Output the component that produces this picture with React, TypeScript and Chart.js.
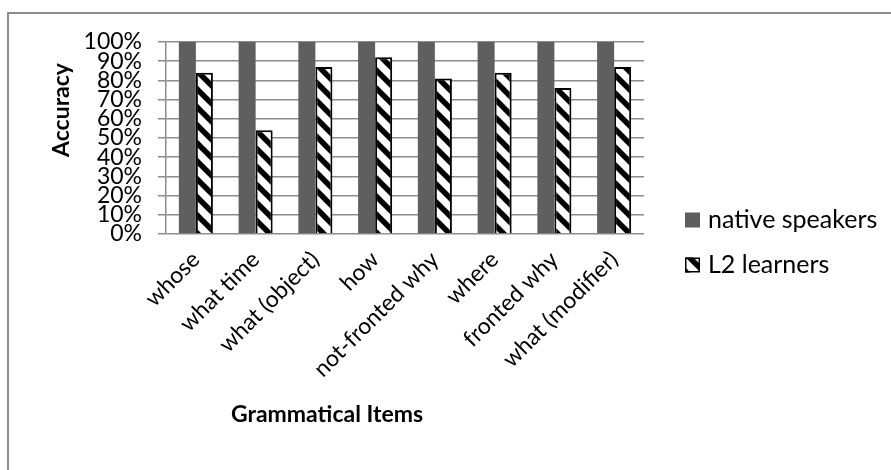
import React, { useEffect, useRef } from "react";
import { Chart, registerables } from "chart.js";

Chart.register(...registerables);

const categories = [
  "whose",
  "what time",
  "what (object)",
  "how",
  "not-fronted why",
  "where",
  "fronted why",
  "what (modifier)",
];
const nativeSpeakers = [100, 100, 100, 100, 100, 100, 100, 100];
const l2Learners = [84, 54, 87, 92, 81, 84, 76, 87];
const seriesNames = ["native speakers", "L2 learners"];
const xTitle = "Grammatical Items";
const yTitle = "Accuracy";
const yMin = 0;
const yMax = 100;
const yStep = 10;

const FONT = "Lato, 'Open Sans', sans-serif";
const GRID = "#8c8c8c";
const FS = 23;
const LEGEND_FS = 25;

function makeHatch(): CanvasPattern | string {
  const size = 18;
  const c = document.createElement("canvas");
  c.width = size;
  c.height = size;
  const g = c.getContext("2d");
  if (!g) return "#fff";
  g.fillStyle = "#fff";
  g.fillRect(0, 0, size, size);
  g.strokeStyle = "#000";
  g.lineWidth = 5.5;
  g.beginPath();
  for (let k = -1; k <= 1; k++) {
    g.moveTo(k * size - 2, -2);
    g.lineTo(k * size + size + 2, size + 2);
  }
  g.stroke();
  const p = g.createPattern(c, "repeat");
  return p || "#fff";
}

const framePlugin = {
  id: "frame",
  beforeDraw(chart: any) {
    const { ctx, width, height } = chart;
    ctx.save();
    ctx.fillStyle = "#fff";
    ctx.fillRect(0, 0, width, height);
    ctx.strokeStyle = GRID;
    ctx.lineWidth = 2;
    ctx.beginPath();
    ctx.moveTo(8, height + 5);
    ctx.lineTo(8, 13);
    ctx.lineTo(width + 5, 13);
    ctx.stroke();
    ctx.restore();
  },
};

const titlesPlugin = {
  id: "titles",
  afterDraw(chart: any) {
    const { ctx } = chart;
    ctx.save();
    ctx.fillStyle = "#000";
    ctx.font = `bold ${FS}px ${FONT}`;
    ctx.textAlign = "center";
    ctx.textBaseline = "middle";
    ctx.fillText(xTitle, 327, 415);
    ctx.translate(62, 110);
    ctx.rotate(-Math.PI / 2);
    ctx.fillText(yTitle, 0, 0);
    ctx.restore();
  },
};

const legendPlugin = {
  id: "sideLegend",
  afterDraw(chart: any) {
    const { ctx, chartArea } = chart;
    const x = chartArea.right + 41;
    ctx.save();
    chart.data.datasets.forEach((ds: any, i: number) => {
      const cy = 220 + i * 45;
      ctx.fillStyle = ds.backgroundColor;
      ctx.fillRect(x, cy - 7.5, 15, 15);
      if (ds.borderWidth) {
        ctx.strokeStyle = ds.borderColor;
        ctx.lineWidth = 1.5;
        ctx.strokeRect(x + 0.75, cy - 6.75, 13.5, 13.5);
      }
      ctx.fillStyle = "#000";
      ctx.font = `${LEGEND_FS}px ${FONT}`;
      ctx.textAlign = "left";
      ctx.textBaseline = "middle";
      ctx.fillText(ds.label, x + 23, cy);
    });
    ctx.restore();
  },
};

export default function App() {
  const ref = useRef<HTMLCanvasElement | null>(null);

  useEffect(() => {
    if (!ref.current) return;
    const hatch = makeHatch();
    const padLeft = 36;
    const chart = new Chart(ref.current, {
      type: "bar",
      data: {
        labels: categories,
        datasets: [
          {
            label: seriesNames[0],
            data: nativeSpeakers,
            backgroundColor: "#5f5f5f",
            borderWidth: 0,
            categoryPercentage: 0.57,
            barPercentage: 1,
          },
          {
            label: seriesNames[1],
            data: l2Learners,
            backgroundColor: hatch as any,
            borderColor: "#000",
            borderWidth: 2,
            categoryPercentage: 0.57,
            barPercentage: 1,
          },
        ],
      },
      options: {
        responsive: false,
        animation: false,
        layout: { padding: { left: padLeft, top: 42, right: 247, bottom: 0 } },
        plugins: {
          legend: { display: false },
          tooltip: { enabled: false },
        },
        scales: {
          x: {
            grid: { display: false },
            border: { display: false },
            ticks: {
              minRotation: 45,
              maxRotation: 45,
              autoSkip: false,
              color: "#000",
              padding: 4,
              font: { family: FONT, size: FS },
            },
            afterFit: (s: any) => {
              s.height = 470 - 234;
            },
          },
          y: {
            min: yMin,
            max: yMax,
            ticks: {
              stepSize: yStep,
              autoSkip: false,
              color: "#000",
              padding: 16,
              font: { family: FONT, size: FS, lineHeight: 1 },
              callback: (v: any) => v + "%",
            },
            grid: { color: GRID, lineWidth: 1.5, tickLength: 8 },
            border: { color: GRID, width: 1.5 },
            afterFit: (s: any) => {
              s.width = 166 - padLeft;
            },
          },
        },
      },
      plugins: [framePlugin, titlesPlugin, legendPlugin],
    } as any);
    return () => chart.destroy();
  }, []);

  return (
    <div style={{ position: "absolute", left: 0, top: 0, width: 891, height: 470 }}>
      <canvas ref={ref} width={891} height={470} style={{ display: "block" }} />
    </div>
  );
}
